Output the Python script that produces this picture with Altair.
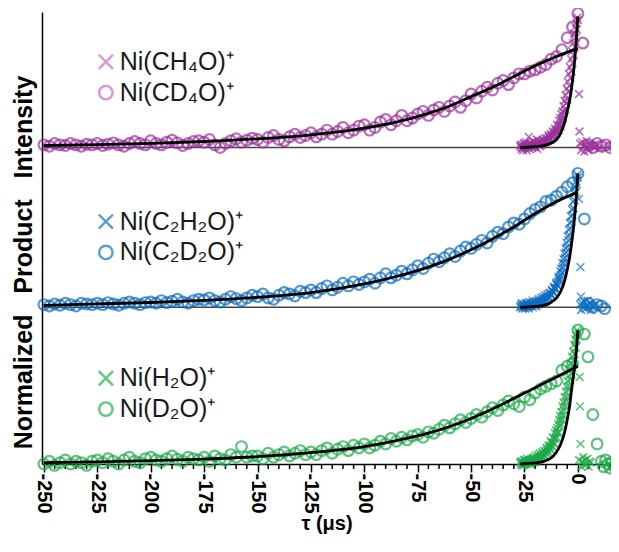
import altair as alt
import pandas as pd

# ---------------- data (normalized product intensity) ----------------
# slow scans (deuterated, open circles): tau = -250 ... 0 us, every 2.5 us
d_start, d_step = -250.0, 2.5
top_D = [0.02, 0.01, 0.03, 0.02, 0.015, 0.03, 0.02, 0.01, 0.025, 0.02,
         0.03, 0.015, 0.025, 0.035, 0.02, 0.01, 0.03, 0.045, 0.03, 0.02,
         0.05, 0.03, 0.02, 0.04, 0.055, 0.035, 0.015, 0.03, 0.045, 0.05,
         0.04, 0.06, 0.02, 0.0, 0.03, 0.05, 0.065, 0.04, 0.055, 0.07,
         0.06, 0.04, 0.075, 0.09, 0.06, 0.05, 0.08, 0.1, 0.075, 0.09,
         0.11, 0.08, 0.1, 0.13, 0.1, 0.12, 0.15, 0.11, 0.13, 0.16,
         0.17, 0.13, 0.15, 0.19, 0.21, 0.17, 0.2, 0.24, 0.2, 0.22,
         0.25, 0.27, 0.24, 0.28, 0.3, 0.27, 0.31, 0.34, 0.3, 0.35,
         0.4, 0.37, 0.42, 0.45, 0.43, 0.48, 0.5, 0.47, 0.52, 0.55,
         0.55, 0.57, 0.58, 0.6, 0.62, 0.66, 0.68, 0.73, 0.82, 0.9, 1.0]
mid_D = [0.02, 0.01, 0.025, 0.015, 0.03, 0.02, 0.01, 0.03, 0.025, 0.02,
         0.03, 0.02, 0.035, 0.025, 0.015, 0.03, 0.04, 0.03, 0.02, 0.035,
         0.04, 0.03, 0.05, 0.035, 0.045, 0.06, 0.04, 0.03, 0.05, 0.06,
         0.055, 0.07, 0.05, 0.04, 0.06, 0.08, 0.065, 0.05, 0.07, 0.09,
         0.08, 0.1, 0.07, 0.06, 0.09, 0.11, 0.1, 0.085, 0.12, 0.11,
         0.13, 0.11, 0.14, 0.16, 0.13, 0.15, 0.18, 0.16, 0.19, 0.17,
         0.19, 0.21, 0.18, 0.22, 0.25, 0.22, 0.24, 0.27, 0.25, 0.28,
         0.31, 0.29, 0.33, 0.36, 0.34, 0.37, 0.4, 0.38, 0.42, 0.45,
         0.44, 0.47, 0.5, 0.48, 0.53, 0.56, 0.55, 0.6, 0.63, 0.62,
         0.66, 0.7, 0.73, 0.75, 0.79, 0.8, 0.83, 0.86, 0.9, 0.93, 1.0]
bot_D = [0.0, 0.02, -0.01, 0.01, 0.03, 0.0, 0.02, 0.01, -0.01, 0.02,
         0.03, 0.01, 0.04, 0.02, 0.0, 0.03, 0.05, 0.02, 0.01, 0.04,
         0.05, 0.03, 0.02, 0.04, 0.06, 0.035, 0.02, 0.05, 0.04, 0.03,
         0.05, 0.02, 0.06, 0.04, 0.03, 0.07, 0.05, 0.13, 0.05, 0.06,
         0.06, 0.04, 0.08, 0.05, 0.07, 0.09, 0.06, 0.08, 0.1, 0.07,
         0.09, 0.07, 0.1, 0.12, 0.08, 0.11, 0.13, 0.1, 0.14, 0.12,
         0.15, 0.12, 0.14, 0.17, 0.15, 0.19, 0.17, 0.2, 0.18, 0.21,
         0.22, 0.2, 0.24, 0.23, 0.26, 0.29, 0.27, 0.3, 0.33, 0.31,
         0.34, 0.37, 0.35, 0.39, 0.42, 0.4, 0.44, 0.47, 0.45, 0.43,
         0.5, 0.48, 0.53, 0.56, 0.58, 0.6, 0.62, 0.7, 0.73, 0.75, 1.0]
# circles recorded after tau = 0
top_D_post_t = [2.3, 5, 7, 9, 11, 13, 15, 17]
top_D_post = [0.78, 0.02, 0.0, 0.03, 0.01, 0.02, 0.0, 0.01]
mid_D_post_t = [3, 5, 7, 9, 11, 12.5]
mid_D_post = [0.66, 0.03, 0.0, 0.02, 0.01, -0.01]
bot_D_post_t = [3, 4.7, 7, 9, 11, 12, 13, 14, 15, 16, 17]
bot_D_post = [0.97, 0.8, 0.37, 0.15, 0.02, -0.02, 0.03, 0.0, -0.03, 0.01, -0.02]

# fast scans (protiated, crosses): tau = -27 ... 0 us, every 0.5 us
h_start, h_step = -27.0, 0.5
top_H = [0.01, -0.01, 0.02, 0.0, 0.03, 0.01, -0.02, 0.02, 0.08, 0.01,
         0.03, 0.0, 0.02, 0.04, 0.01, 0.03, -0.01, 0.03, 0.02, 0.04,
         0.02, 0.05, 0.03, 0.05, 0.04, 0.06, 0.05, 0.08, 0.06, 0.09,
         0.08, 0.1, 0.09, 0.12, 0.11, 0.14, 0.13, 0.17, 0.16, 0.2,
         0.22, 0.26, 0.28, 0.33, 0.36, 0.42, 0.46, 0.52, 0.57, 0.63,
         0.69, 0.75, 0.82, 0.88, 0.95]
mid_H = [0.0, 0.02, -0.01, 0.01, 0.02, 0.0, 0.03, 0.01, -0.01, 0.02,
         0.01, 0.03, 0.0, 0.02, 0.04, 0.01, 0.03, 0.02, 0.04, 0.03,
         0.05, 0.03, 0.06, 0.04, 0.07, 0.06, 0.08, 0.07, 0.1, 0.09,
         0.12, 0.11, 0.14, 0.13, 0.17, 0.16, 0.2, 0.21, 0.24, 0.26,
         0.3, 0.33, 0.37, 0.41, 0.45, 0.5, 0.54, 0.59, 0.64, 0.69,
         0.74, 0.8, 0.86, 0.92, 0.97]
bot_H = [0.01, 0.0, 0.02, -0.01, 0.01, 0.03, 0.0, 0.02, 0.01, 0.03,
         0.0, 0.02, 0.04, 0.01, 0.03, 0.02, 0.04, 0.03, 0.05, 0.04,
         0.06, 0.05, 0.07, 0.06, 0.08, 0.1, 0.09, 0.12, 0.11, 0.14,
         0.13, 0.16, 0.15, 0.19, 0.2, 0.23, 0.24, 0.28, 0.3, 0.33,
         0.36, 0.4, 0.43, 0.47, 0.5, 0.55, 0.58, 0.63, 0.67, 0.72,
         0.77, 0.82, 0.87, 0.93, 0.98]
# interleaved fast-scan points: tau = -26.75 ... -0.25 us, every 0.5 us
h2_start = -26.75
top_H2 = [0.02, 0.0, -0.02, 0.03, 0.01, 0.04, 0.0, 0.02, -0.01, 0.03,
          0.01, 0.05, 0.02, 0.0, 0.03, 0.06, 0.02, 0.04, 0.01, 0.05,
          0.03, 0.06, 0.04, 0.07, 0.05, 0.07, 0.09, 0.07, 0.1, 0.09,
          0.12, 0.11, 0.14, 0.13, 0.17, 0.16, 0.2, 0.22, 0.25, 0.27,
          0.31, 0.35, 0.39, 0.44, 0.49, 0.55, 0.6, 0.66, 0.72, 0.78,
          0.85, 0.9, 0.93, 0.97]
mid_H2 = [0.01, 0.03, 0.0, 0.02, -0.01, 0.03, 0.02, 0.0, 0.04, 0.01,
          0.03, 0.05, 0.02, 0.04, 0.01, 0.05, 0.03, 0.06, 0.04, 0.07,
          0.05, 0.08, 0.06, 0.09, 0.07, 0.1, 0.08, 0.11, 0.1, 0.13,
          0.12, 0.15, 0.15, 0.18, 0.19, 0.22, 0.23, 0.27, 0.29, 0.33,
          0.36, 0.4, 0.44, 0.48, 0.53, 0.58, 0.63, 0.68, 0.73, 0.79,
          0.85, 0.9, 0.94, 0.99]
bot_H2 = [0.02, -0.01, 0.01, 0.03, 0.0, 0.02, 0.04, 0.01, 0.03, 0.0,
          0.04, 0.02, 0.05, 0.03, 0.06, 0.04, 0.07, 0.05, 0.08, 0.06,
          0.09, 0.07, 0.1, 0.09, 0.12, 0.11, 0.14, 0.13, 0.17, 0.16,
          0.2, 0.19, 0.23, 0.25, 0.27, 0.3, 0.33, 0.36, 0.39, 0.43,
          0.46, 0.5, 0.54, 0.58, 0.62, 0.66, 0.7, 0.75, 0.8, 0.84,
          0.89, 0.93, 0.96, 1.0]
top_H_post_t = [0.5, 0.7, 1, 1.5, 2, 2.5, 3, 3.5, 4, 4.5, 5, 5.5, 6, 7, 8, 9, 10]
top_H_post = [0.4, 0.12, 0.03, -0.02, 0.04, 0.01, -0.03, 0.02, 0.05, 0.0,
              -0.02, 0.03, 0.01, 0.02, 0.0, 0.02, -0.01]
mid_H_post_t = [0.5, 1.2, 1.4, 1, 1.5, 2, 2.5, 3, 3.5, 4, 4.5, 5, 5.5, 6, 7, 8]
mid_H_post = [0.81, 0.3, 0.08, 0.02, -0.02, 0.03, 0.0, 0.04, -0.01, 0.02,
              0.05, 0.0, 0.03, -0.02, 0.01, 0.02]
bot_H_post_t = [0.8, 1, 1.2, 0.5, 1.5, 2, 2.5, 3, 3.5, 4, 4.5, 5, 5.5, 6]
bot_H_post = [0.65, 0.43, 0.15, 0.03, -0.02, 0.02, 0.05, -0.01, 0.03, 0.0,
              0.04, -0.02, 0.02, 0.01]

# fitted curves (black lines)
slow_t = [-250, -225, -200, -175, -150, -125, -100, -85, -70, -60, -50, -40, -30, -20, -10, 0]
top_slow = [0.015, 0.022, 0.031, 0.045, 0.065, 0.095, 0.145, 0.19, 0.255, 0.31,
            0.38, 0.45, 0.53, 0.61, 0.68, 0.74]
mid_slow = [0.015, 0.025, 0.036, 0.052, 0.075, 0.11, 0.175, 0.23, 0.3, 0.36,
            0.43, 0.51, 0.6, 0.7, 0.79, 0.86]
bot_slow = [0.01, 0.016, 0.025, 0.037, 0.055, 0.085, 0.13, 0.175, 0.23, 0.28,
            0.34, 0.41, 0.49, 0.57, 0.65, 0.73]
fast_t = [-27, -24, -20, -16, -13, -10, -8, -6, -5, -4, -3, -2, -1, 0]
top_fast = [0.0, 0.002, 0.006, 0.014, 0.03, 0.06, 0.11, 0.2, 0.27, 0.34, 0.44, 0.57, 0.75, 0.98]
mid_fast = [0.0, 0.002, 0.006, 0.015, 0.032, 0.07, 0.12, 0.21, 0.28, 0.36, 0.47, 0.6, 0.77, 1.0]
bot_fast = [0.0, 0.003, 0.008, 0.02, 0.04, 0.09, 0.15, 0.25, 0.33, 0.42, 0.55, 0.67, 0.8, 1.0]

labels_H = ["Ni(CH\u2084O)\u207a", "Ni(C\u2082H\u2082O)\u207a", "Ni(H\u2082O)\u207a"]
labels_D = ["Ni(CD\u2084O)\u207a", "Ni(C\u2082D\u2082O)\u207a", "Ni(D\u2082O)\u207a"]
x_ticks = [-250, -225, -200, -175, -150, -125, -100, -75, -50, -25, 0]

# ---------------- styling / layout ----------------
offsets = [2.363, 1.17, 0.0]          # vertical stacking of the three panels
data_colors = ["#9C309E", "#0E6DC2", "#19AA47"]
legend_colors = ["#D067CE", "#1670C4", "#1FB04C"]
XPATH = "M-1,-1L1,1M-1,1L1,-1"
FONT = "Liberation Sans"

panels = [
    (top_D, top_D_post_t, top_D_post, top_H, top_H2, top_H_post_t, top_H_post, top_slow, top_fast),
    (mid_D, mid_D_post_t, mid_D_post, mid_H, mid_H2, mid_H_post_t, mid_H_post, mid_slow, mid_fast),
    (bot_D, bot_D_post_t, bot_D_post, bot_H, bot_H2, bot_H_post_t, bot_H_post, bot_slow, bot_fast),
]

circ_rows, cross_rows, fit_rows, leg_rows = [], [], [], []
for p, (D, Dpt, Dp, H, H2, Hpt, Hp, slow, fast) in enumerate(panels):
    off = offsets[p]
    for i, v in enumerate(D):
        circ_rows.append({"t": d_start + i * d_step, "y": v + off, "panel": p})
    for t, v in zip(Dpt, Dp):
        circ_rows.append({"t": t, "y": v + off, "panel": p})
    for i, v in enumerate(H):
        cross_rows.append({"t": h_start + i * h_step, "y": v + off, "panel": p})
    for i, v in enumerate(H2):
        cross_rows.append({"t": h2_start + i * h_step, "y": v + off, "panel": p})
    for t, v in zip(Hpt, Hp):
        cross_rows.append({"t": t, "y": v + off, "panel": p})
    for k, (t, v) in enumerate(zip(slow_t, slow)):
        fit_rows.append({"t": t, "y": v + off, "curve": f"slow{p}", "o": k})
    for k, (t, v) in enumerate(zip(fast_t, fast)):
        fit_rows.append({"t": t, "y": v + off, "curve": f"fast{p}", "o": k})
    leg_rows.append({"t": -221, "tt": -214.5, "y": off + 0.64, "label": labels_H[p], "kind": "H", "panel": p})
    leg_rows.append({"t": -221, "tt": -214.5, "y": off + 0.41, "label": labels_D[p], "kind": "D", "panel": p})

circ = pd.DataFrame(circ_rows)
cross = pd.DataFrame(cross_rows)
fits = pd.DataFrame(fit_rows)
leg = pd.DataFrame(leg_rows)
base_df = pd.DataFrame({"y": offsets[:2]})
minor_df = pd.DataFrame({"t": [t for t in range(-250, 16, 5) if t % 25 != 0]})

W, H_ = 569, 452
xs = alt.Scale(domain=[-250.9, 15.5], nice=False, zero=False)
ys = alt.Scale(domain=[0, 3.375], nice=False, zero=False)
dcol = alt.Scale(domain=[0, 1, 2], range=data_colors)
lcol = alt.Scale(domain=[0, 1, 2], range=legend_colors)

xaxis = alt.Axis(values=x_ticks, labelExpr="toString(datum.value)", labelAngle=90,
                 labelFont=FONT, labelFontSize=20, labelFontWeight="bold", labelColor="black",
                 labelPadding=1, tickSize=8, tickColor="black", tickWidth=1.5,
                 domainColor="black", domainWidth=1.5, grid=False,
                 title="\u03c4 (\u03bcs)", titleFont=FONT, titleFontSize=20,
                 titleFontWeight="bold", titleColor="black", titlePadding=0)
yaxis = alt.Axis(title="Normalized\u00a0\u00a0 Product\u00a0\u00a0 Intensity", ticks=False, labels=False,
                 grid=False, domainColor="black", domainWidth=1.5,
                 titleFont=FONT, titleFontSize=25, titleFontWeight="bold",
                 titleColor="black", titlePadding=6, titleY=250)

X = alt.X("t:Q", scale=xs, axis=xaxis)
Y = alt.Y("y:Q", scale=ys, axis=yaxis)

baselines = alt.Chart(base_df).mark_rule(color="#444444", strokeWidth=1.5).encode(
    y=alt.Y("y:Q", scale=ys, axis=yaxis))

minor = alt.Chart(minor_df).mark_rule(color="black", strokeWidth=1.5).encode(
    x=X, y=alt.value(H_), y2=alt.value(H_ + 5))

circles = alt.Chart(circ).mark_point(shape="circle", filled=False, size=115, strokeWidth=2.2).encode(
    x=X, y=Y, color=alt.Color("panel:N", scale=dcol, legend=None))

crosses = alt.Chart(cross).mark_point(shape=XPATH, filled=False, size=60, strokeWidth=1.6).encode(
    x=X, y=Y, color=alt.Color("panel:N", scale=dcol, legend=None))

lines = alt.Chart(fits).mark_line(color="black", strokeWidth=2.8, interpolate="monotone").encode(
    x=X, y=Y, detail="curve:N", order="o:Q")

leg_sym_H = alt.Chart(leg[leg.kind == "H"]).mark_point(shape=XPATH, filled=False, size=200, strokeWidth=2.4).encode(
    x=X, y=Y, color=alt.Color("panel:N", scale=lcol, legend=None))
leg_sym_D = alt.Chart(leg[leg.kind == "D"]).mark_point(shape="circle", filled=False, size=180, strokeWidth=2.4).encode(
    x=X, y=Y, color=alt.Color("panel:N", scale=lcol, legend=None))
leg_txt = alt.Chart(leg).mark_text(align="left", baseline="middle", font=FONT, fontSize=25,
                                   color="#1a1a1a").encode(
    x=alt.X("tt:Q", scale=xs, axis=xaxis), y=Y, text="label:N")

chart = alt.layer(baselines, minor, circles, crosses, lines, leg_sym_H, leg_sym_D, leg_txt).properties(
    width=W, height=H_,
    autosize=alt.AutoSizeParams(type="none"),
    padding={"left": 34, "top": 4, "right": 0, "bottom": 74}
).resolve_scale(color="independent").configure_view(stroke=None)

chart.save("out.html", embed_options={"renderer": "svg", "actions": False})
